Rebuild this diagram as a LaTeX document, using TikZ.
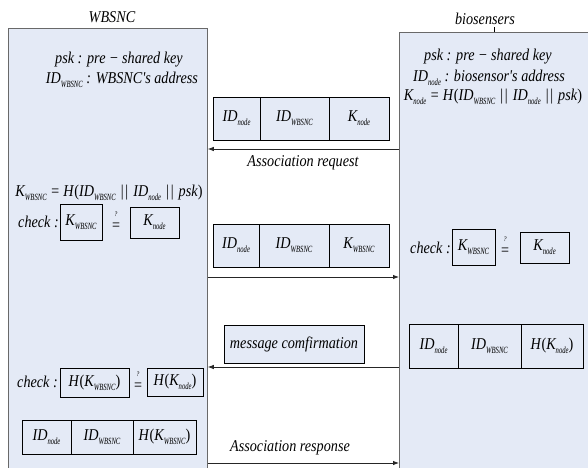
\documentclass[tikz,border=0pt]{standalone}
\usepackage{fontspec}
\setmainfont{Liberation Serif}
\newfontfamily\mainfnt{Liberation Serif}[FakeStretch=0.86]
\newfontfamily\subfont{Liberation Serif}[FakeStretch=0.7]
\usetikzlibrary{arrows.meta}
\definecolor{panelfill}{RGB}{228,234,246}
\definecolor{edgegray}{RGB}{105,105,105}
\newcommand\subtx[1]{\raisebox{-0.5ex}{\subfont\itshape\fontsize{9.5}{9.5}\selectfont #1}}
\newcommand\IDw{ID\subtx{WBSNC}}
\newcommand\IDn{ID\subtx{node}}
\newcommand\Kw{K\subtx{WBSNC}}
\newcommand\Kn{K\subtx{node}}
\newcommand\bars{\hspace{5pt}\textup{|}\hspace{1.8pt}\textup{|}\hspace{5pt}}
\newcommand\lp{\textup{(}}
\newcommand\rp{\textup{)}}
\newcommand\qeq{\raisebox{-0.3ex}{\shortstack{{\fontsize{7}{7}\selectfont ?}\\[3pt]\upshape=}}}
\tikzset{
  panelbox/.style={draw=edgegray, fill=panelfill, line width=0.8pt, inner sep=0pt, anchor=north west},
  cell/.style={draw=black, fill=panelfill, line width=0.8pt, inner sep=0pt},
  txt/.style={inner sep=0pt},
  arr/.style={-{Latex[length=6pt,width=4.5pt]}, line width=0.8pt, draw=black!85},
}
\begin{document}
\begin{tikzpicture}[x=1pt,y=-1pt,font=\mainfnt\fontsize{16.5}{18}\selectfont\itshape]
\useasboundingbox (0,0) rectangle (588,467);
% panels
\node[panelbox, minimum width=199pt, minimum height=445pt] (L) at (8,28) {};
\node[panelbox, minimum width=195pt, minimum height=440pt] (R) at (399,32) {};
\node[txt] (Llab) at (112,17) {WBSNC};
\node[txt] (Rlab) at (485,19) {biosensers};
\draw[line width=0.6pt] (R.north -| 494,0) -- ++(0,-5);

% left panel text
\node[txt] (l1) at (119,60) {psk : pre − shared key};
\node[txt] (l2) at (122,80) {\IDw{} : WBSNC's address};
\node[txt] (l3) at (109,193) {\Kw{} = H\lp\IDw{}\bars\IDn{}\bars psk\rp};
% right panel text
\node[txt] (r1) at (488,57) {psk : pre − shared key};
\node[txt] (r2) at (489,78) {\IDn{} : biosensor's address};
\node[txt] (r3) at (493,97) {\Kn{} = H\lp\IDw{}\bars\IDn{}\bars psk\rp};

% message 1
\node[cell, minimum width=47pt, minimum height=43pt] (m1a) at (236.5,118.5) {\IDn};
\node[cell, minimum width=69pt, minimum height=43pt] (m1b) at (294.5,118.5) {\IDw};
\node[cell, minimum width=60pt, minimum height=43pt] (m1c) at (359,118.5) {\Kn};
\draw[arr] (R.west |- 0,149) -- (L.east |- 0,149);
\node[txt] (req) at (303,163) {Association request};

% left check 1
\node[txt, anchor=east] (c1) at (59,222) {check :};
\node[cell, minimum width=42pt, minimum height=36pt] (c1a) at (81,222) {\Kw};
\node[txt] (q1) at (116,221) {\qeq};
\node[cell, minimum width=49pt, minimum height=31pt] (c1b) at (154.5,222.5) {\Kn};

% message 2
\node[cell, minimum width=46pt, minimum height=43pt] (m2a) at (236,245.5) {\IDn};
\node[cell, minimum width=70pt, minimum height=43pt] (m2b) at (294,245.5) {\IDw};
\node[cell, minimum width=60pt, minimum height=43pt] (m2c) at (359,245.5) {\Kw};
\draw[arr] (L.east |- 0,277) -- (R.west |- 0,277);

% right check
\node[txt, anchor=east] (c2) at (451,248) {check :};
\node[cell, minimum width=43pt, minimum height=36pt] (c2a) at (473.5,247) {\Kw};
\node[txt] (q2) at (505,246) {\qeq};
\node[cell, minimum width=49pt, minimum height=31pt] (c2b) at (544.5,247.5) {\Kn};

% confirmation
\node[cell, minimum width=140pt, minimum height=38pt] (conf) at (294,344) {message comfirmation};
\node[cell, minimum width=49pt, minimum height=44pt] (m3a) at (433.5,346) {\IDn};
\node[cell, minimum width=63pt, minimum height=44pt] (m3b) at (489.5,346) {\IDw};
\node[cell, minimum width=62pt, minimum height=44pt] (m3c) at (552,346) {H\lp\Kn\rp};
\draw[arr] (R.west |- 0,367) -- (L.east |- 0,367);

% left check 2
\node[txt, anchor=east] (c3) at (58,382) {check :};
\node[cell, minimum width=69pt, minimum height=29pt] (c3a) at (94.5,382.5) {H\lp\Kw\rp};
\node[txt] (q3) at (138,381) {\qeq};
\node[cell, minimum width=56pt, minimum height=28pt] (c3b) at (175,382) {H\lp\Kn\rp};

% message 4
\node[cell, minimum width=49pt, minimum height=34pt] (m4a) at (46.5,437) {\IDn};
\node[cell, minimum width=62pt, minimum height=34pt] (m4b) at (102,437) {\IDw};
\node[cell, minimum width=63pt, minimum height=34pt] (m4c) at (164.5,437) {H\lp\Kw\rp};
\node[txt] (resp) at (290,448) {Association response};
\draw[arr] (L.east |- 0,463) -- (R.west |- 0,463);
\end{tikzpicture}
\end{document}
